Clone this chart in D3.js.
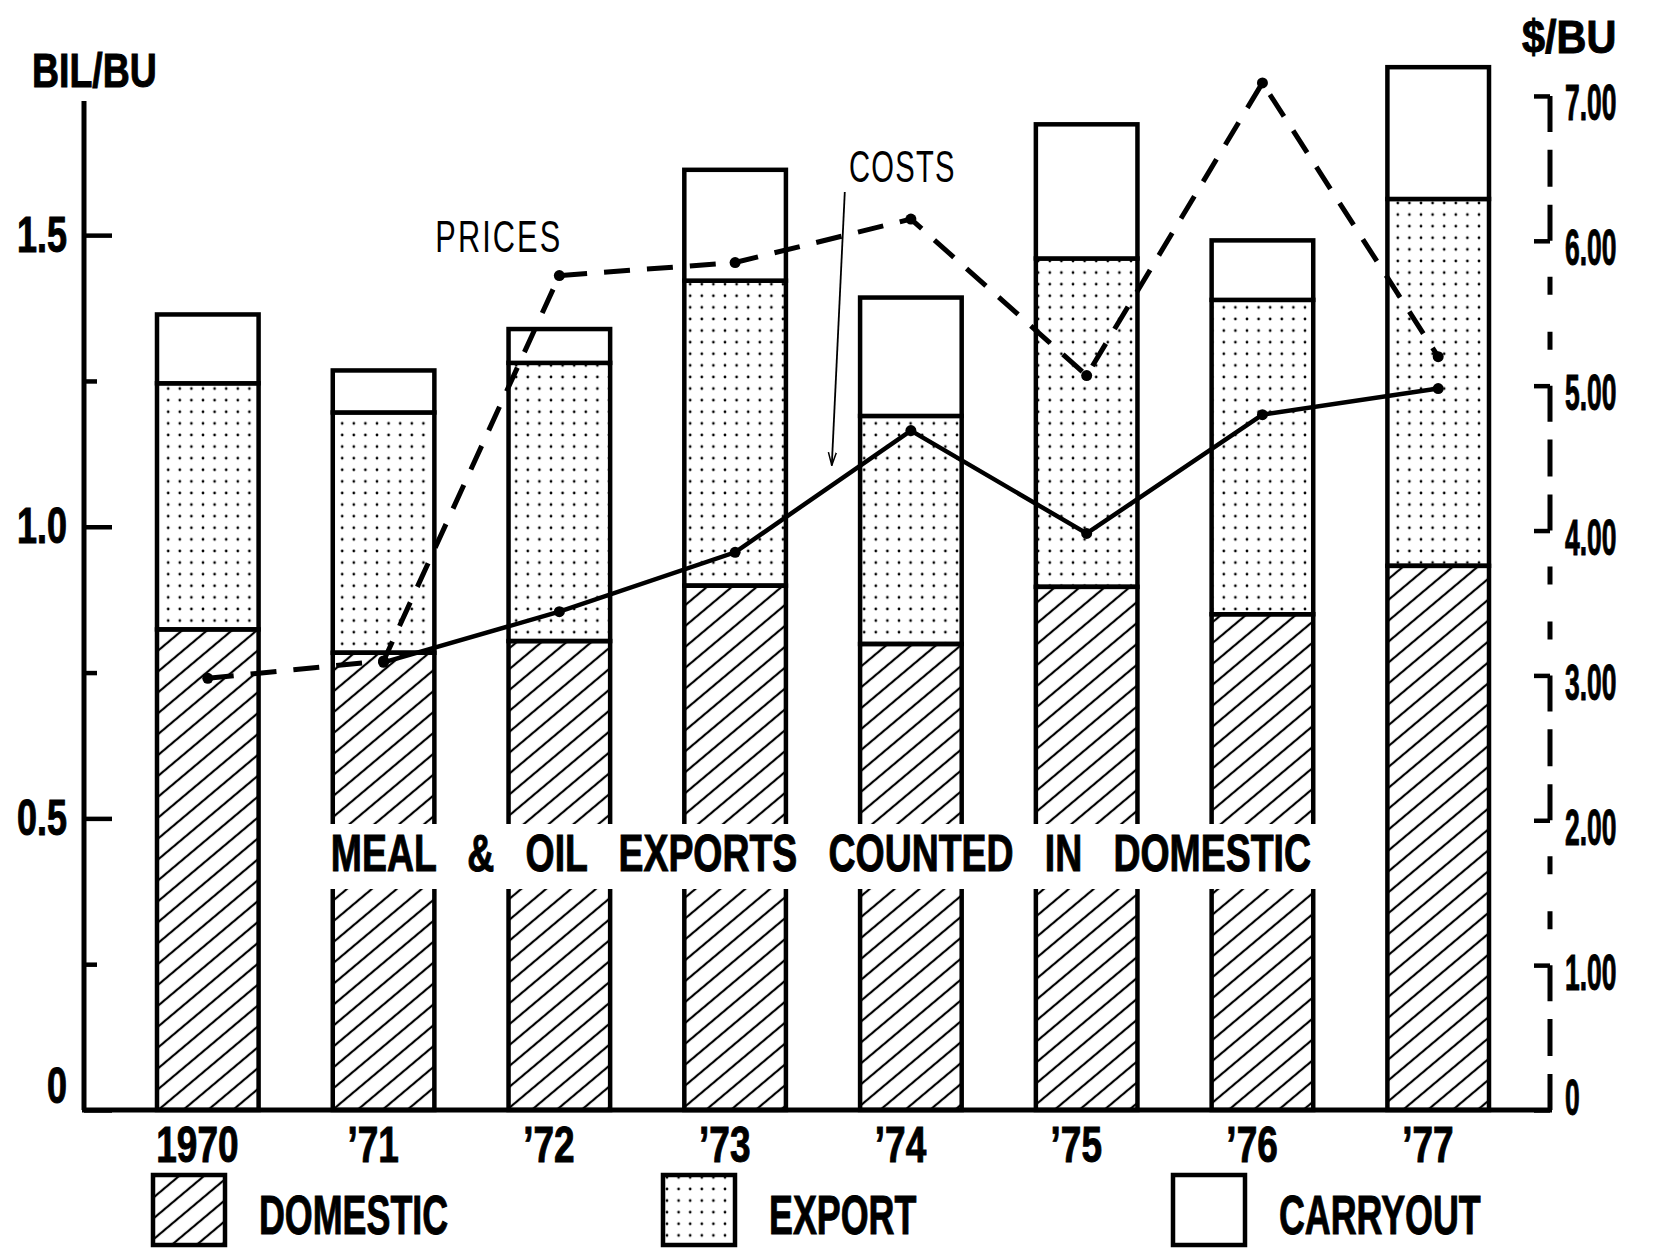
<!DOCTYPE html>
<html>
<head>
<meta charset="utf-8">
<script src="https://cdn.jsdelivr.net/npm/d3@7"></script>
<style>
html, body { margin: 0; padding: 0; background: #fff; }
svg { display: block; }
text { font-family: "Liberation Sans", Arial, sans-serif; fill: #000; }
.bold { font-weight: bold; stroke: #000; stroke-width: 1px; }
</style>
</head>
<body>
<div id="chart"></div>
<script>
// soybean supply use, billion bushels
var years = ["1970", "\u201971", "\u201972", "\u201973", "\u201974", "\u201975", "\u201976", "\u201977"];
var domestic = [0.824, 0.784, 0.804, 0.899, 0.799, 0.897, 0.850, 0.933];
var exported = [0.422, 0.412, 0.477, 0.523, 0.391, 0.563, 0.539, 0.629];
var carryout = [0.118, 0.072, 0.058, 0.190, 0.203, 0.230, 0.102, 0.226];
// $ per bushel
var prices = [2.98, 3.10, 5.76, 5.85, 6.15, 5.07, 7.09, 5.20];
var costs = [null, 3.09, 3.44, 3.85, 4.69, 3.98, 4.80, 4.98];

var leftTicks = [0, 0.5, 1.0, 1.5];
var leftMinor = [0.25, 0.75, 1.25];
var rightTicks = [0, 1, 2, 3, 4, 5, 6, 7];
var series = ["DOMESTIC", "EXPORT", "CARRYOUT"];
var note = "MEAL   &   OIL   EXPORTS   COUNTED   IN   DOMESTIC";

var width = 1657, height = 1249;
var axisLeftX = 84, axisRightX = 1550, baseY = 1110;

var svg = d3.select("#chart").append("svg")
    .attr("width", width)
    .attr("height", height);

// patterns
var defs = svg.append("defs");
var hatch = defs.append("pattern")
    .attr("id", "hatch")
    .attr("patternUnits", "userSpaceOnUse")
    .attr("width", 16).attr("height", 16)
    .attr("patternTransform", "rotate(50)");
hatch.append("line")
    .attr("x1", 8).attr("y1", 0).attr("x2", 8).attr("y2", 16)
    .attr("stroke", "#000").attr("stroke-width", 2.2);

var dots = defs.append("pattern")
    .attr("id", "dots")
    .attr("patternUnits", "userSpaceOnUse")
    .attr("width", 11.6).attr("height", 11.6);
dots.append("circle")
    .attr("cx", 5.8).attr("cy", 5.8).attr("r", 1.35)
    .attr("fill", "#000");

defs.append("marker")
    .attr("id", "arrow")
    .attr("viewBox", "0 -6 14 12")
    .attr("refX", 13).attr("refY", 0)
    .attr("markerWidth", 14).attr("markerHeight", 12)
    .attr("markerUnits", "userSpaceOnUse")
    .attr("orient", "auto")
    .append("path")
    .attr("d", "M0,-4L13,0L0,4")
    .attr("fill", "none").attr("stroke", "#000").attr("stroke-width", 1.5);

var fills = { DOMESTIC: "url(#hatch)", EXPORT: "url(#dots)", CARRYOUT: "#fff" };

// scales
var x = d3.scaleBand()
    .domain(years)
    .range([157, 1489])
    .paddingInner(0.422)
    .paddingOuter(0);
var cx = function(y) { return x(y) + x.bandwidth() / 2; };

var yL = d3.scaleLinear().domain([0, 1.766]).range([baseY, 80]);
var yR = d3.scaleLinear().domain([0, 7.11]).range([baseY, 80]);

// squeeze text horizontally (condensed lettering)
function squeeze(sel, sx) {
    sel.each(function() {
        var t = d3.select(this);
        t.attr("x", (+t.attr("x") || 0) / sx)
         .attr("transform", "scale(" + sx + ",1)");
    });
}
// squeeze a text so it spans a given width
function fitWidth(sel, w) {
    var natural = sel.node().getComputedTextLength();
    squeeze(sel, w / natural);
}

// stacked bars
var table = years.map(function(y, i) {
    return { year: y, DOMESTIC: domestic[i], EXPORT: exported[i], CARRYOUT: carryout[i] };
});
var stacked = d3.stack().keys(series)(table);

svg.append("g")
    .selectAll("g")
    .data(stacked)
    .join("g")
    .attr("fill", function(d) { return fills[d.key]; })
    .selectAll("rect")
    .data(function(d) { return d; })
    .join("rect")
    .attr("x", function(d) { return x(d.data.year); })
    .attr("y", function(d) { return yL(d[1]); })
    .attr("width", x.bandwidth())
    .attr("height", function(d) { return yL(d[0]) - yL(d[1]); })
    .attr("stroke", "#000")
    .attr("stroke-width", 4.5);

// banner across the bars
var banner = svg.append("g");
var noteX0 = x(years[1]) - 2,
    noteX1 = x(years[6]) + x.bandwidth() - 2;
banner.append("rect")
    .attr("x", noteX0 - 12)
    .attr("y", 824)
    .attr("width", noteX1 - noteX0 + 24)
    .attr("height", 65)
    .attr("fill", "#fff");
var noteText = banner.append("text")
    .attr("class", "bold")
    .attr("x", noteX0)
    .attr("y", 871)
    .style("font-size", "52px")
    .style("white-space", "pre")
    .text(note);
fitWidth(noteText, noteX1 - noteX0);

// price line (dashed)
var priceLine = d3.line()
    .x(function(d, i) { return cx(years[i]); })
    .y(function(d) { return yR(d); });
svg.append("path")
    .datum(prices)
    .attr("d", priceLine)
    .attr("fill", "none")
    .attr("stroke", "#000")
    .attr("stroke-width", 5)
    .attr("stroke-dasharray", "26,17");
svg.append("g")
    .selectAll("circle")
    .data(prices)
    .join("circle")
    .attr("cx", function(d, i) { return cx(years[i]); })
    .attr("cy", function(d) { return yR(d); })
    .attr("r", 5.5)
    .attr("fill", "#000");

// cost line (solid)
var costLine = d3.line()
    .defined(function(d) { return d != null; })
    .x(function(d, i) { return cx(years[i]); })
    .y(function(d) { return yR(d); });
svg.append("path")
    .datum(costs)
    .attr("d", costLine)
    .attr("fill", "none")
    .attr("stroke", "#000")
    .attr("stroke-width", 4.5);
svg.append("g")
    .selectAll("circle")
    .data(costs.map(function(d, i) { return { v: d, i: i }; }).filter(function(d) { return d.v != null; }))
    .join("circle")
    .attr("cx", function(d) { return cx(years[d.i]); })
    .attr("cy", function(d) { return yR(d.v); })
    .attr("r", 5.5)
    .attr("fill", "#000");

// line labels
var pLab = svg.append("text")
    .attr("x", cx(years[2]) + 3 - 127)
    .attr("y", yR(prices[2]) - 24)
    .style("font-size", "44px")
    .style("letter-spacing", "3px")
    .text("PRICES");
fitWidth(pLab, 127);

var cLabX = cx(years[4]) - 62;
var cLab = svg.append("text")
    .attr("x", cLabX)
    .attr("y", 182)
    .style("font-size", "44px")
    .style("letter-spacing", "2px")
    .text("COSTS");
fitWidth(cLab, 107);

var tipX = cx(years[3]) + 0.55 * (cx(years[4]) - cx(years[3]));
var tipY = yR(costs[3] + 0.55 * (costs[4] - costs[3])) - 20;
svg.append("line")
    .attr("x1", tipX + 13).attr("y1", 192)
    .attr("x2", tipX).attr("y2", tipY)
    .attr("stroke", "#000").attr("stroke-width", 1.8)
    .attr("marker-end", "url(#arrow)");

// left axis
svg.append("line")
    .attr("x1", axisLeftX).attr("x2", axisLeftX)
    .attr("y1", yL(0)).attr("y2", yL(1.73))
    .attr("stroke", "#000").attr("stroke-width", 5);

var axL = svg.append("g")
    .attr("transform", "translate(" + axisLeftX + ",0)")
    .call(d3.axisLeft(yL)
        .tickValues(leftTicks)
        .tickSize(-28)
        .tickPadding(17)
        .tickFormat(function(d) { return d === 0 ? "0" : d3.format(".1f")(d); }));
axL.attr("font-size", null).attr("font-family", null);
axL.select(".domain").remove();
axL.selectAll("line").attr("stroke-width", 4.5);
axL.selectAll("text").attr("class", "bold").style("font-size", "50px");
axL.selectAll(".tick").filter(function(d) { return d === 0; })
    .select("text").attr("dy", -8);
squeeze(axL.selectAll("text"), 0.72);

var axLm = svg.append("g")
    .attr("transform", "translate(" + axisLeftX + ",0)")
    .call(d3.axisLeft(yL).tickValues(leftMinor).tickSize(-13).tickFormat(""));
axLm.select(".domain").remove();
axLm.selectAll("line").attr("stroke-width", 4.5);

// baseline
svg.append("line")
    .attr("x1", axisLeftX - 2).attr("x2", axisRightX + 2)
    .attr("y1", baseY).attr("y2", baseY)
    .attr("stroke", "#000").attr("stroke-width", 5);

// right axis, dashed
var unit = yR(0) - yR(1);
var longDash = 72, shortDash = 37, gap = (unit - longDash - shortDash) / 2;
svg.append("line")
    .attr("x1", axisRightX).attr("x2", axisRightX)
    .attr("y1", yR(0)).attr("y2", yR(7.23))
    .attr("stroke", "#000").attr("stroke-width", 5)
    .attr("stroke-dasharray", [longDash / 2, gap, shortDash, gap, longDash / 2].join(","));

var axR = svg.append("g")
    .attr("transform", "translate(" + axisRightX + ",0)")
    .call(d3.axisRight(yR)
        .tickValues(rightTicks)
        .tickSize(-16)
        .tickPadding(15)
        .tickFormat(function(d) { return d === 0 ? "0" : d3.format(".2f")(d); }));
axR.attr("font-size", null).attr("font-family", null);
axR.select(".domain").remove();
axR.selectAll("line").attr("stroke-width", 4.5);
axR.selectAll("text").attr("class", "bold").style("font-size", "50px").attr("dy", 24);
axR.selectAll(".tick").filter(function(d) { return d === 0; })
    .select("text").attr("dy", 4);
squeeze(axR.selectAll("text"), 0.53);

// x axis labels
var axB = svg.append("g")
    .attr("transform", "translate(0," + baseY + ")")
    .call(d3.axisBottom(x).tickSize(0).tickPadding(17));
axB.attr("font-size", null).attr("font-family", null);
axB.select(".domain").remove();
axB.selectAll("text").attr("class", "bold").style("font-size", "50px").attr("dx", -14);
squeeze(axB.selectAll("text"), 0.74);

// axis titles
var tL = svg.append("text").attr("class", "bold")
    .attr("x", 32).attr("y", 87)
    .style("font-size", "48px")
    .text("BIL/BU");
squeeze(tL, 0.78);
var tR = svg.append("text").attr("class", "bold")
    .attr("x", 1522).attr("y", 53)
    .style("font-size", "46px")
    .text("$/BU");
squeeze(tR, 0.9);

// legend
var lx = d3.scalePoint().domain(series).range([153, 1173]);
var leg = svg.append("g")
    .selectAll("g")
    .data(series)
    .join("g");
leg.append("rect")
    .attr("x", function(d) { return lx(d); })
    .attr("y", 1175)
    .attr("width", 72)
    .attr("height", 70)
    .attr("fill", function(d) { return fills[d]; })
    .attr("stroke", "#000")
    .attr("stroke-width", 4.5);
var legText = leg.append("text")
    .attr("class", "bold")
    .attr("x", function(d) { return lx(d) + 106; })
    .attr("y", 1234)
    .style("font-size", "56px")
    .text(function(d) { return d; });
squeeze(legText, 0.64);
</script>
</body>
</html>
